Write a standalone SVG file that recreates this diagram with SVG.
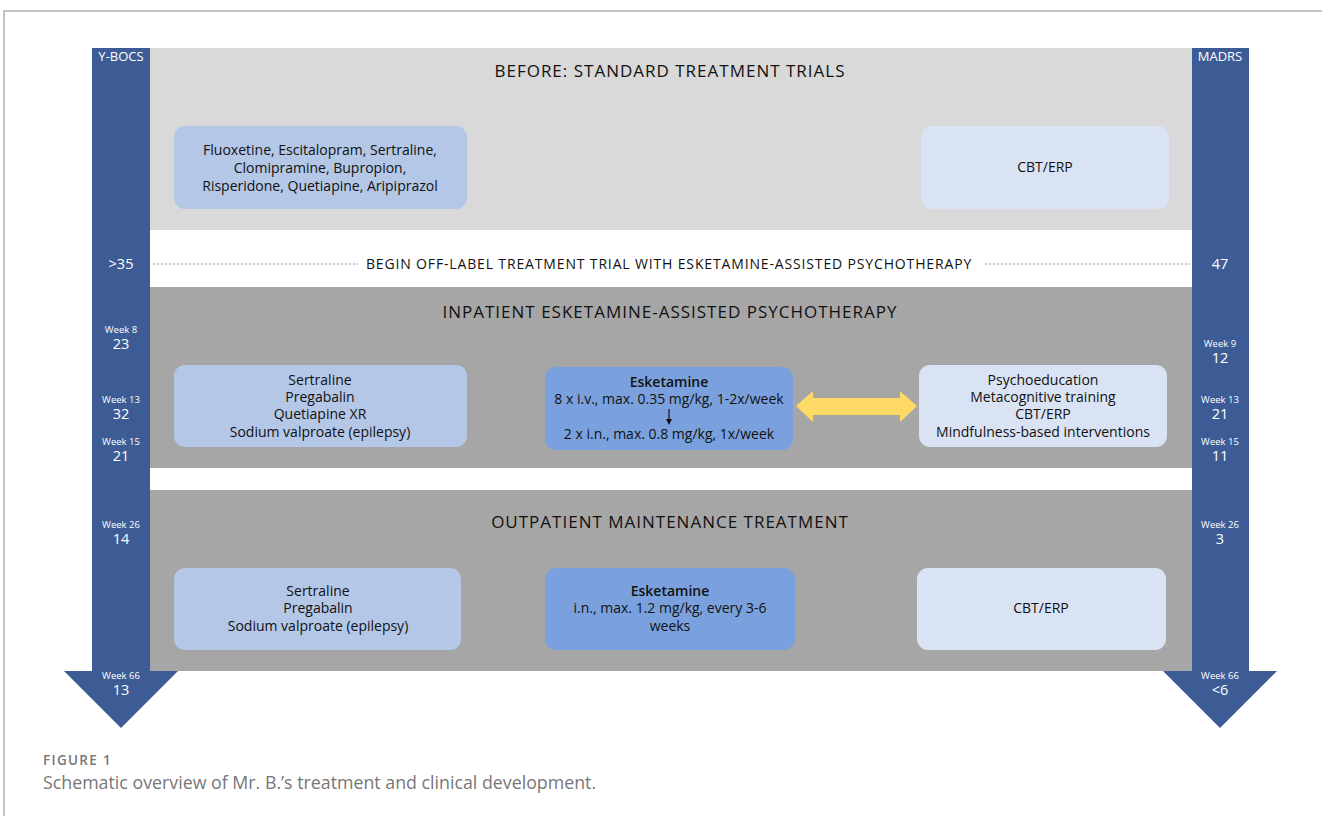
<svg xmlns="http://www.w3.org/2000/svg" width="1322" height="816" viewBox="0 0 1322 816">
  <style>
    text { font-family: "Open Sans", Lato, "Liberation Sans", sans-serif; }
    .title { font-size: 17px; letter-spacing: 1px; fill: #111; text-anchor: middle; }
    .body { font-size: 14px; fill: #111; text-anchor: middle; }
    .caps { letter-spacing: 0.85px; }
    .bold { font-weight: 600; }
    .axis { fill: #ffffff; text-anchor: middle; }
    .wk { font-size: 9.5px; }
    .val { font-size: 14.5px; }
    .med { fill: #b4c7e7; }
    .thr { fill: #dae3f3; }
    .esk { fill: #7aa1dd; }
    .bar { fill: #3d5c96; }
  </style>

  <!-- page frame -->
  <path d="M4,816 V11 H1322" fill="none" stroke="#b0b0b0" stroke-width="1.5"/>

  <!-- phase panels -->
  <g id="phases">
    <rect x="150" y="48" width="1042" height="182" fill="#d9d9d9"/>
    <rect x="150" y="287" width="1042" height="181" fill="#a6a6a6"/>
    <rect x="150" y="490" width="1042" height="181" fill="#a6a6a6"/>
    <text class="title" x="670" y="77">BEFORE: STANDARD TREATMENT TRIALS</text>
    <text class="title" x="670" y="318">INPATIENT ESKETAMINE-ASSISTED PSYCHOTHERAPY</text>
    <text class="title" x="670" y="528">OUTPATIENT MAINTENANCE TREATMENT</text>
  </g>

  <!-- score timelines -->
  <g id="ybocs">
    <path class="bar" d="M92,48 H150 V671 H178 L121,728 L64,671 H92 Z"/>
    <text class="axis" x="121" y="61" font-size="13">Y-BOCS</text>
    <text class="axis val" x="121" y="269">&gt;35</text>
    <text class="axis wk" x="121" y="333">Week 8</text>
    <text class="axis val" x="121" y="349">23</text>
    <text class="axis wk" x="121" y="403">Week 13</text>
    <text class="axis val" x="121" y="419">32</text>
    <text class="axis wk" x="121" y="445">Week 15</text>
    <text class="axis val" x="121" y="461">21</text>
    <text class="axis wk" x="121" y="528">Week 26</text>
    <text class="axis val" x="121" y="544">14</text>
    <text class="axis wk" x="121" y="679">Week 66</text>
    <text class="axis val" x="121" y="695">13</text>
  </g>
  <g id="madrs">
    <path class="bar" d="M1192,48 H1249 V671 H1277 L1220,728 L1163,671 H1192 Z"/>
    <text class="axis" x="1220" y="61" font-size="13">MADRS</text>
    <text class="axis val" x="1220" y="269">47</text>
    <text class="axis wk" x="1220" y="347">Week 9</text>
    <text class="axis val" x="1220" y="363">12</text>
    <text class="axis wk" x="1220" y="403">Week 13</text>
    <text class="axis val" x="1220" y="419">21</text>
    <text class="axis wk" x="1220" y="445">Week 15</text>
    <text class="axis val" x="1220" y="461">11</text>
    <text class="axis wk" x="1220" y="528">Week 26</text>
    <text class="axis val" x="1220" y="544">3</text>
    <text class="axis wk" x="1220" y="679">Week 66</text>
    <text class="axis val" x="1220" y="695">&lt;6</text>
  </g>

  <!-- transition marker -->
  <g id="transition">
    <text class="body caps" x="669" y="269">BEGIN OFF-LABEL TREATMENT TRIAL WITH ESKETAMINE-ASSISTED PSYCHOTHERAPY</text>
  </g>

  <!-- before -->
  <g id="before-meds">
    <rect class="med" x="174" y="126" width="293" height="83" rx="11"/>
    <text class="body" x="320" y="155">Fluoxetine, Escitalopram, Sertraline,</text>
    <text class="body" x="320" y="173">Clomipramine, Bupropion,</text>
    <text class="body" x="320" y="191">Risperidone, Quetiapine, Aripiprazol</text>
  </g>
  <g id="before-therapy">
    <rect class="thr" x="921" y="126" width="248" height="83" rx="11"/>
    <text class="body" x="1045" y="172">CBT/ERP</text>
  </g>

  <!-- inpatient -->
  <g id="inpatient-meds">
    <rect class="med" x="174" y="365" width="293" height="82" rx="11"/>
    <text class="body" x="320" y="385">Sertraline</text>
    <text class="body" x="320" y="402">Pregabalin</text>
    <text class="body" x="320" y="419">Quetiapine XR</text>
    <text class="body" x="320" y="437">Sodium valproate (epilepsy)</text>
  </g>
  <g id="inpatient-esketamine">
    <rect class="esk" x="545" y="367" width="248" height="83" rx="11"/>
    <text class="body bold" x="669" y="387">Esketamine</text>
    <text class="body" x="669" y="404">8 x i.v., max. 0.35 mg/kg, 1-2x/week</text>
    <text class="body" x="669" y="439">2 x i.n., max. 0.8 mg/kg, 1x/week</text>
  </g>
  <g id="inpatient-therapy">
    <rect class="thr" x="919" y="365" width="248" height="82" rx="11"/>
    <text class="body" x="1043" y="385">Psychoeducation</text>
    <text class="body" x="1043" y="402">Metacognitive training</text>
    <text class="body" x="1043" y="419">CBT/ERP</text>
    <text class="body" x="1043" y="437">Mindfulness-based interventions</text>
  </g>

  <!-- outpatient -->
  <g id="outpatient-meds">
    <rect class="med" x="174" y="568" width="287" height="82" rx="11"/>
    <text class="body" x="318" y="596">Sertraline</text>
    <text class="body" x="318" y="613">Pregabalin</text>
    <text class="body" x="318" y="631">Sodium valproate (epilepsy)</text>
  </g>
  <g id="outpatient-esketamine">
    <rect class="esk" x="545" y="568" width="250" height="82" rx="11"/>
    <text class="body bold" x="670" y="596">Esketamine</text>
    <text class="body" x="670" y="613">i.n., max. 1.2 mg/kg, every 3-6</text>
    <text class="body" x="670" y="631">weeks</text>
  </g>
  <g id="outpatient-therapy">
    <rect class="thr" x="917" y="568" width="249" height="82" rx="11"/>
    <text class="body" x="1041" y="613">CBT/ERP</text>
  </g>

  <!-- connectors -->
  <g id="connectors">
    <line x1="153" y1="264" x2="358" y2="264" stroke="#8c8c8c" stroke-width="0.8" stroke-dasharray="2.5,1.5"/>
    <line x1="985" y1="264" x2="1190" y2="264" stroke="#8c8c8c" stroke-width="0.8" stroke-dasharray="2.5,1.5"/>
    <line x1="669" y1="409" x2="669" y2="420" stroke="#111" stroke-width="1.2"/>
    <path d="M666,419 L672,419 L669,425 Z" fill="#111"/>
    <path d="M796,406 L813,391 V398 H900 V391 L917,406 L900,422 V415 H813 V422 Z" fill="#ffd966"/>
  </g>

  <!-- caption -->
  <g id="caption">
    <text x="43" y="765" font-size="13.5" font-weight="600" letter-spacing="1.3" fill="#777">FIGURE 1</text>
    <text x="43" y="789" font-size="17.8" fill="#777">Schematic overview of Mr. B.’s treatment and clinical development.</text>
  </g>
</svg>
